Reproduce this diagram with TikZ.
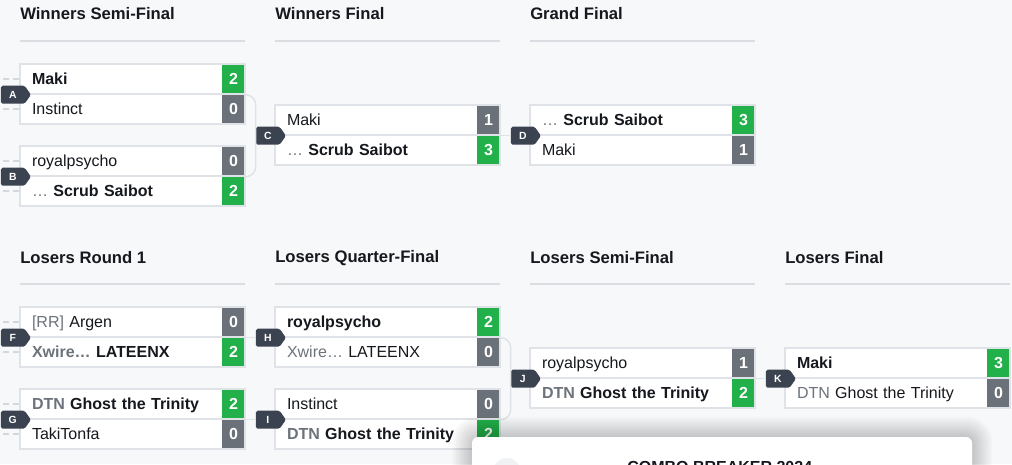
\documentclass[tikz,border=0pt]{standalone}
\usepackage{fontspec}
\setmainfont{Liberation Sans}
\usepackage{tikz}
\usetikzlibrary{shapes.symbols}

\definecolor{pagebg}{HTML}{F7F8FA}
\definecolor{boxline}{HTML}{DFE2E6}
\definecolor{ruleline}{HTML}{DADDE1}
\definecolor{ink}{HTML}{15181D}
\definecolor{muted}{HTML}{6C737B}
\definecolor{scoregreen}{HTML}{22B04B}
\definecolor{scoregray}{HTML}{6B7178}
\definecolor{badgedark}{HTML}{3B4250}
\definecolor{stubgray}{HTML}{D4D7DB}
\definecolor{avatar}{HTML}{F1F2F4}

\tikzset{
  heading/.style={anchor=west, inner sep=0pt, text=ink, font=\fontsize{12.5}{15}\selectfont\bfseries},
  rulebar/.style={draw=ruleline, line width=0.8pt},
  slot/.style={draw=boxline, line width=1.1pt, fill=white, minimum height=22.5pt, text width=150.75pt,
    inner xsep=9pt, inner ysep=0pt, align=left, text height=8.6pt, text depth=0pt, text=ink,
    font=\fontsize{12}{14}\selectfont},
  winslot/.style={slot, font=\fontsize{12}{14}\selectfont\bfseries},
  scorebox/.style={anchor=east, minimum width=16.5pt, minimum height=21pt, inner sep=0pt, text=white,
    text height=8.6pt, text depth=0pt, font=\fontsize{12}{14}\selectfont\bfseries},
  wonscore/.style={scorebox, fill=scoregreen},
  lostscore/.style={scorebox, fill=scoregray},
  badge/.style={signal, signal to=east, signal pointer angle=110, anchor=east, fill=badgedark,
    rounded corners=1.2pt, minimum width=22.5pt, minimum height=13.5pt, inner sep=0pt, text=white,
    font=\fontsize{7.8}{9}\selectfont\bfseries},
  bracket/.style={draw=boxline, line width=1.1pt, rounded corners=7.5pt},
  feed/.style={draw=boxline, line width=1.1pt},
  stub/.style={draw=stubgray, line width=2.2pt, dash pattern=on 4.5pt off 3pt},
  haze/.style={fill=black, fill opacity=0.02},
}

\begin{document}
\begin{tikzpicture}[x=0.75pt,y=0.75pt,yscale=-1,xscale=1]
  \useasboundingbox (0,0) rectangle (1012,464);
  \clip (0,0) rectangle (1012,464);
  \fill[pagebg] (0,0) rectangle (1012,464);

  % Round headings
  \node[heading] (hWS) at (20,14) {Winners Semi-Final};
  \node[heading] (hWF) at (275,14) {Winners Final};
  \node[heading] (hGF) at (530,14) {Grand Final};
  \draw[rulebar] (20,41) -- (245,41);
  \draw[rulebar] (275,41) -- (500,41);
  \draw[rulebar] (530,41) -- (755,41);

  \node[heading] (hLR) at (20,258) {Losers Round 1};
  \node[heading] (hLQ) at (275,258) {Losers Quarter-Final};
  \node[heading] (hLS) at (530,258) {Losers Semi-Final};
  \node[heading] (hLF) at (785,258) {Losers Final};
  \draw[rulebar] (20,284) -- (245,284);
  \draw[rulebar] (275,284) -- (500,284);
  \draw[rulebar] (530,284) -- (755,284);
  \draw[rulebar] (785,284) -- (1010,284);

  % Match A
  \node[winslot] (A1) at (132.5,79) {Maki};
  \node[wonscore] (sA1) at ([xshift=-0.75pt]A1.east) {2};
  \node[slot] (A2) at (132.5,109) {Instinct};
  \node[lostscore] (sA2) at ([xshift=-0.75pt]A2.east) {0};
  \node[badge] (bA) at ([xshift=9pt]A1.south west) {A};

  % Match B
  \node[slot] (B1) at (132.5,161) {royalpsycho};
  \node[lostscore] (sB1) at ([xshift=-0.75pt]B1.east) {0};
  \node[winslot] (B2) at (132.5,191) {{\color{muted}\mdseries …} Scrub Saibot};
  \node[wonscore] (sB2) at ([xshift=-0.75pt]B2.east) {2};
  \node[badge] (bB) at ([xshift=9pt]B1.south west) {B};

  % Match C
  \node[slot] (C1) at (387.5,120) {Maki};
  \node[lostscore] (sC1) at ([xshift=-0.75pt]C1.east) {1};
  \node[winslot] (C2) at (387.5,150) {{\color{muted}\mdseries …} Scrub Saibot};
  \node[wonscore] (sC2) at ([xshift=-0.75pt]C2.east) {3};
  \node[badge] (bC) at ([xshift=9pt]C1.south west) {C};

  % Match D
  \node[winslot] (D1) at (642.5,120) {{\color{muted}\mdseries …} Scrub Saibot};
  \node[wonscore] (sD1) at ([xshift=-0.75pt]D1.east) {3};
  \node[slot] (D2) at (642.5,150) {Maki};
  \node[lostscore] (sD2) at ([xshift=-0.75pt]D2.east) {1};
  \node[badge] (bD) at ([xshift=9pt]D1.south west) {D};

  % Match F
  \node[slot] (F1) at (132.5,322) {{\color{muted}[RR]} Argen};
  \node[lostscore] (sF1) at ([xshift=-0.75pt]F1.east) {0};
  \node[winslot] (F2) at (132.5,352) {{\color{muted}Xwire…} LATEENX};
  \node[wonscore] (sF2) at ([xshift=-0.75pt]F2.east) {2};
  \node[badge] (bF) at ([xshift=9pt]F1.south west) {F};

  % Match G
  \node[winslot] (G1) at (132.5,404) {{\color{muted}DTN} Ghost the Trinity};
  \node[wonscore] (sG1) at ([xshift=-0.75pt]G1.east) {2};
  \node[slot] (G2) at (132.5,434) {TakiTonfa};
  \node[lostscore] (sG2) at ([xshift=-0.75pt]G2.east) {0};
  \node[badge] (bG) at ([xshift=9pt]G1.south west) {G};

  % Match H
  \node[winslot] (H1) at (387.5,322) {royalpsycho};
  \node[wonscore] (sH1) at ([xshift=-0.75pt]H1.east) {2};
  \node[slot] (H2) at (387.5,352) {{\color{muted}Xwire…} LATEENX};
  \node[lostscore] (sH2) at ([xshift=-0.75pt]H2.east) {0};
  \node[badge] (bH) at ([xshift=9pt]H1.south west) {H};

  % Match I
  \node[slot] (I1) at (387.5,404) {Instinct};
  \node[lostscore] (sI1) at ([xshift=-0.75pt]I1.east) {0};
  \node[winslot] (I2) at (387.5,434) {{\color{muted}DTN} Ghost the Trinity};
  \node[wonscore] (sI2) at ([xshift=-0.75pt]I2.east) {2};
  \node[badge] (bI) at ([xshift=9pt]I1.south west) {I};

  % Match J
  \node[slot] (J1) at (642.5,363) {royalpsycho};
  \node[lostscore] (sJ1) at ([xshift=-0.75pt]J1.east) {1};
  \node[winslot] (J2) at (642.5,393) {{\color{muted}DTN} Ghost the Trinity};
  \node[wonscore] (sJ2) at ([xshift=-0.75pt]J2.east) {2};
  \node[badge] (bJ) at ([xshift=9pt]J1.south west) {J};

  % Match K
  \node[winslot] (K1) at (897.5,363) {Maki};
  \node[wonscore] (sK1) at ([xshift=-0.75pt]K1.east) {3};
  \node[slot] (K2) at (897.5,393) {{\color{muted}DTN} Ghost the Trinity};
  \node[lostscore] (sK2) at ([xshift=-0.75pt]K2.east) {0};
  \node[badge] (bK) at ([xshift=9pt]K1.south west) {K};

  % Links between matches
  \draw[bracket] (A1.south east) -| (bC.west);
  \draw[bracket] (B1.south east) -| (bC.west);
  \draw[feed] (C1.south east) -- (bD.west);
  \draw[feed] (F1.south east) -- (bH.west);
  \draw[feed] (G1.south east) -- (bI.west);
  \draw[bracket] (H1.south east) -| (bJ.west);
  \draw[bracket] (I1.south east) -| (bJ.west);
  \draw[feed] (J1.south east) -- (bK.west);

  % Entry stubs
  \draw[stub] (A1.west) -- ++(-15pt,0);
  \draw[stub] (A2.west) -- ++(-15pt,0);
  \draw[stub] (B1.west) -- ++(-15pt,0);
  \draw[stub] (B2.west) -- ++(-15pt,0);
  \draw[stub] (F1.west) -- ++(-15pt,0);
  \draw[stub] (F2.west) -- ++(-15pt,0);
  \draw[stub] (G1.west) -- ++(-15pt,0);
  \draw[stub] (G2.west) -- ++(-15pt,0);

  % Event card over the bottom, with a soft shadow
  \foreach \k in {1,...,10}
    \fill[haze, rounded corners=6pt+\k*1.2pt] (472-2*\k,437-2*\k) rectangle (972+2*\k,520);
  \fill[white, rounded corners=4.5pt] (472,437) rectangle (972,520);
  \fill[avatar] (507,472) circle (10.5pt);
  \node[anchor=north west, inner sep=0pt, text=ink, font=\fontsize{12}{14}\selectfont\bfseries] (promo) at (627,461) {COMBO BREAKER 2024};
\end{tikzpicture}
\end{document}
